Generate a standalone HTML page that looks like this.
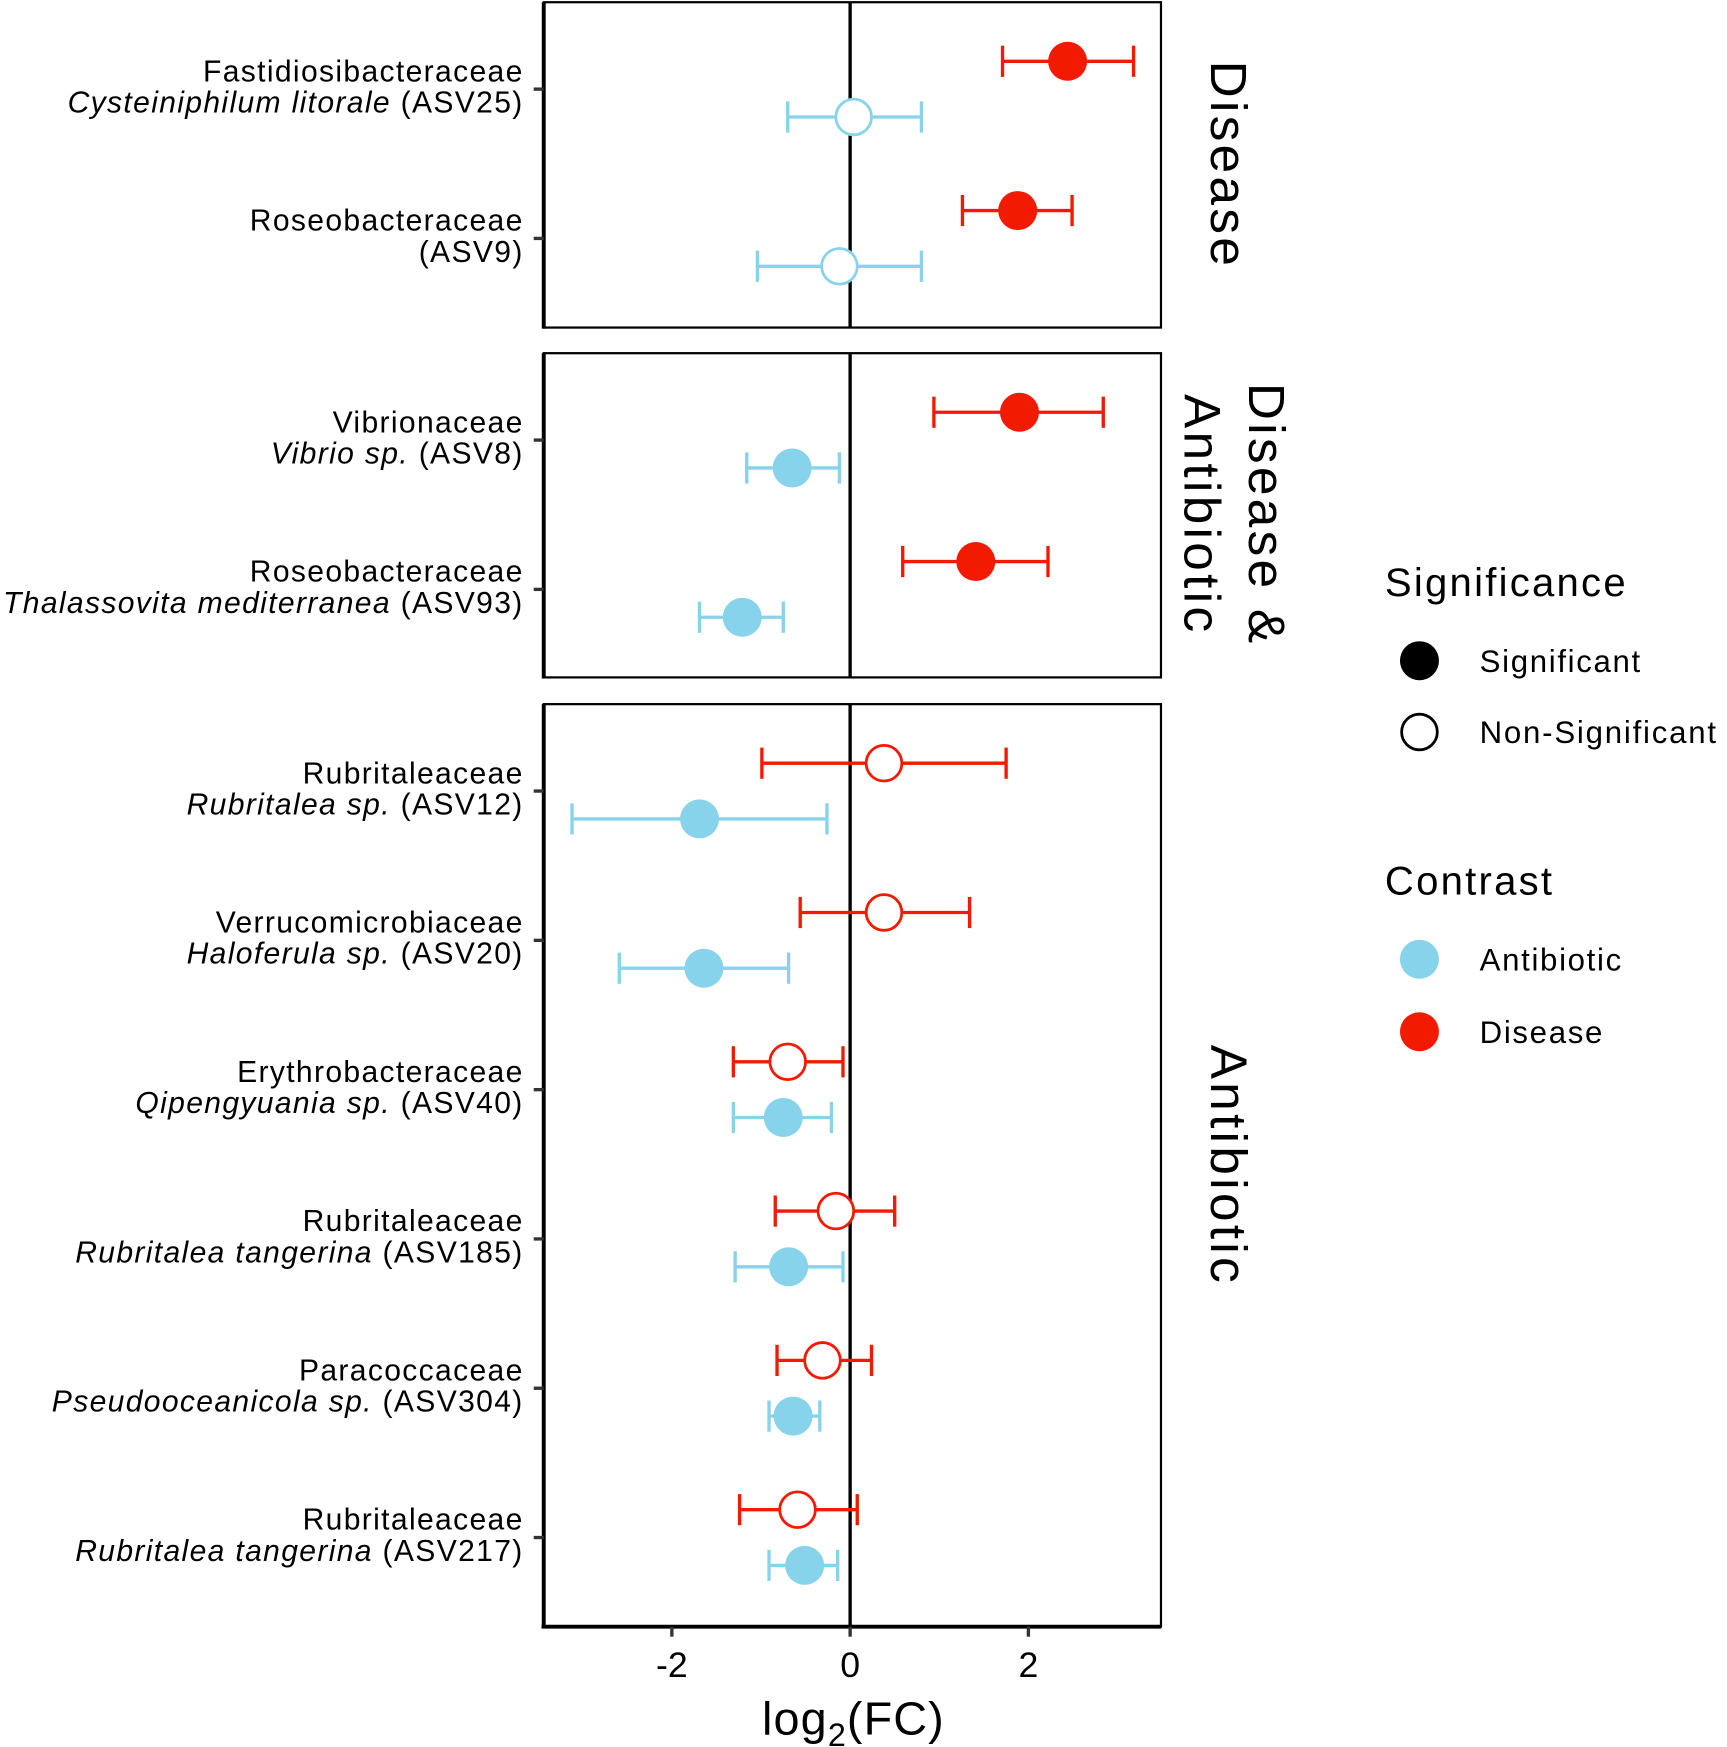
<!DOCTYPE html>
<html><head><meta charset="utf-8"><style>
html,body{margin:0;padding:0;background:#fff;}
svg{display:block;font-family:"Liberation Sans",Arial,sans-serif;}
</style></head><body>
<svg id="chart" width="1727" height="1747" viewBox="0 0 1550 1568" xmlns="http://www.w3.org/2000/svg">
<g id="panels"></g><g id="marks"></g><g id="labels"></g>
</svg>
<script>
const rowFamily=["Fastidiosibacteraceae","Roseobacteraceae","Vibrionaceae","Roseobacteraceae","Rubritaleaceae","Verrucomicrobiaceae","Erythrobacteraceae","Rubritaleaceae","Paracoccaceae","Rubritaleaceae"];
const rowSpecies=["Cysteiniphilum litorale","","Vibrio sp.","Thalassovita mediterranea","Rubritalea sp.","Haloferula sp.","Qipengyuania sp.","Rubritalea tangerina","Pseudooceanicola sp.","Rubritalea tangerina"];
const rowAsv=["(ASV25)","(ASV9)","(ASV8)","(ASV93)","(ASV12)","(ASV20)","(ASV40)","(ASV185)","(ASV304)","(ASV217)"];
const rowPanel=[0,0,1,1,2,2,2,2,2,2];
const diseaseEst=[2.44,1.88,1.9,1.41,0.38,0.38,-0.7,-0.16,-0.31,-0.59];
const diseaseLo=[1.71,1.26,0.94,0.59,-0.99,-0.56,-1.31,-0.84,-0.82,-1.24];
const diseaseHi=[3.18,2.49,2.84,2.22,1.75,1.34,-0.08,0.5,0.24,0.08];
const diseaseSig=[1,1,1,1,0,0,0,0,0,0];
const antiEst=[0.04,-0.12,-0.65,-1.21,-1.69,-1.64,-0.75,-0.69,-0.64,-0.51];
const antiLo=[-0.7,-1.04,-1.16,-1.69,-3.12,-2.59,-1.31,-1.29,-0.91,-0.91];
const antiHi=[0.8,0.8,-0.12,-0.75,-0.26,-0.69,-0.21,-0.08,-0.34,-0.14];
const antiSig=[0,0,1,1,1,1,1,1,1,1];
const xTicks=[-2,0,2];
const panelNames=["Disease","Disease & Antibiotic","Antibiotic"];

const NS="http://www.w3.org/2000/svg";
const X0=763,PX=80;
function xs(v){return X0+v*PX;}
const rowY=[80,214,395,529,710,844,978,1112,1246,1380];
const panelBox=[[2,294],[317,608],[632,1460]];
function mk(tag,attrs,parent){const e=document.createElementNS(NS,tag);for(const k in attrs)e.setAttribute(k,attrs[k]);parent.appendChild(e);return e;}
const gP=document.getElementById('panels'),gM=document.getElementById('marks'),gL=document.getElementById('labels');
const RED="#f21a00",BLUE="#87d3eb";

panelBox.forEach((b,i)=>{
  const r=mk('rect',{x:488,y:b[0],width:554,height:b[1]-b[0],fill:'none',stroke:'#000','stroke-width':2},gP);
  
  
  mk('line',{x1:488,x2:488,y1:b[0],y2:b[1]+1,stroke:'#000','stroke-width':3.5},gP);
  const z=mk('line',{x1:xs(0),x2:xs(0),y1:b[0],y2:b[1],stroke:'#000','stroke-width':3},gP);
  
  
});
mk('line',{x1:486,x2:1042,y1:1460,y2:1460,stroke:'#000','stroke-width':3.5},gP);

function strip(lines,cx,cy,name){
  const t=mk('text',{transform:`translate(${cx},${cy}) rotate(90)`,'font-size':46,'letter-spacing':3,'text-anchor':'middle',fill:'#000'},gL);
  
  
  lines.forEach((l,i)=>{const ts=mk('tspan',{x:0,dy:i===0?(-(lines.length-1)*29+16):58},t);ts.textContent=l;});
}
strip(["Disease"],1103,148,'strip-disease');
strip(["Disease &","Antibiotic"],1108,462,'strip-disease-antibiotic');
strip(["Antibiotic"],1103,1046,'strip-antibiotic');

rowFamily.forEach((f,i)=>{
  const y=rowY[i];
  mk('line',{x1:479,x2:488,y1:y,y2:y,stroke:'#333','stroke-width':3},gP);
  const t1=mk('text',{x:470,y:y-7,'font-size':27,'letter-spacing':1.2,'text-anchor':'end'},gL);t1.textContent=f;
  
  
  const t2=mk('text',{x:470,y:y+21,'font-size':27,'letter-spacing':1.2,'text-anchor':'end'},gL);
  
  
  if(rowSpecies[i]){const s=mk('tspan',{'font-style':'italic'},t2);s.textContent=rowSpecies[i]+' ';}
  const a=mk('tspan',{},t2);a.textContent=rowAsv[i];
});

xTicks.forEach(v=>{
  mk('line',{x1:xs(v),x2:xs(v),y1:1460,y2:1469,stroke:'#333','stroke-width':3},gP);
  const t=mk('text',{x:xs(v),y:1505,'font-size':32,'text-anchor':'middle'},gL);
  t.textContent=v===0?'0':(v<0?'-'+Math.abs(v):String(v));
  
  
});
const xt=mk('text',{x:766,y:1557,'font-size':42,'letter-spacing':1,'text-anchor':'middle'},gL);


xt.innerHTML='log<tspan font-size="29" dy="10">2</tspan><tspan dy="-10">(FC)</tspan>';

function series(est,lo,hi,sig,col,off,name){
  est.forEach((v,i)=>{
    const y=rowY[i]+off;
    const g=mk('g',{},gM);
    
    
    mk('line',{x1:xs(lo[i]),x2:xs(hi[i]),y1:y,y2:y,stroke:col,'stroke-width':3},g);
    mk('line',{x1:xs(lo[i]),x2:xs(lo[i]),y1:y-14,y2:y+14,stroke:col,'stroke-width':3},g);
    mk('line',{x1:xs(hi[i]),x2:xs(hi[i]),y1:y-14,y2:y+14,stroke:col,'stroke-width':3},g);
    mk('circle',{cx:xs(v),cy:y,r:sig[i]?17.5:16,fill:sig[i]?col:'#fff',stroke:col,'stroke-width':sig[i]?0:2.5},g);
  });
}
series(diseaseEst,diseaseLo,diseaseHi,diseaseSig,RED,-25,'disease');
series(antiEst,antiLo,antiHi,antiSig,BLUE,25,'antibiotic');

function ltxt(x,y,s,size,name,ls){const t=mk('text',{x:x,y:y,'font-size':size,'letter-spacing':ls},gL);t.textContent=s;return t;}
ltxt(1243,535,'Significance',36,'legend-title-significance',2);
mk('circle',{cx:1274,cy:593,r:17.5,fill:'#000'},gL);
ltxt(1328,603,'Significant',28,'legend-entry-significant',1.5);
mk('circle',{cx:1274,cy:657,r:16,fill:'#fff',stroke:'#000','stroke-width':2.5},gL);
ltxt(1328,667,'Non-Significant',28,'legend-entry-nonsignificant',1.6);
ltxt(1243,803,'Contrast',36,'legend-title-contrast',2);
mk('circle',{cx:1274,cy:861,r:17.5,fill:BLUE},gL);
ltxt(1328,871,'Antibiotic',28,'legend-entry-antibiotic',1.5);
mk('circle',{cx:1274,cy:926,r:17.5,fill:RED},gL);
ltxt(1328,936,'Disease',28,'legend-entry-disease',1.5);
</script>
</body></html>
